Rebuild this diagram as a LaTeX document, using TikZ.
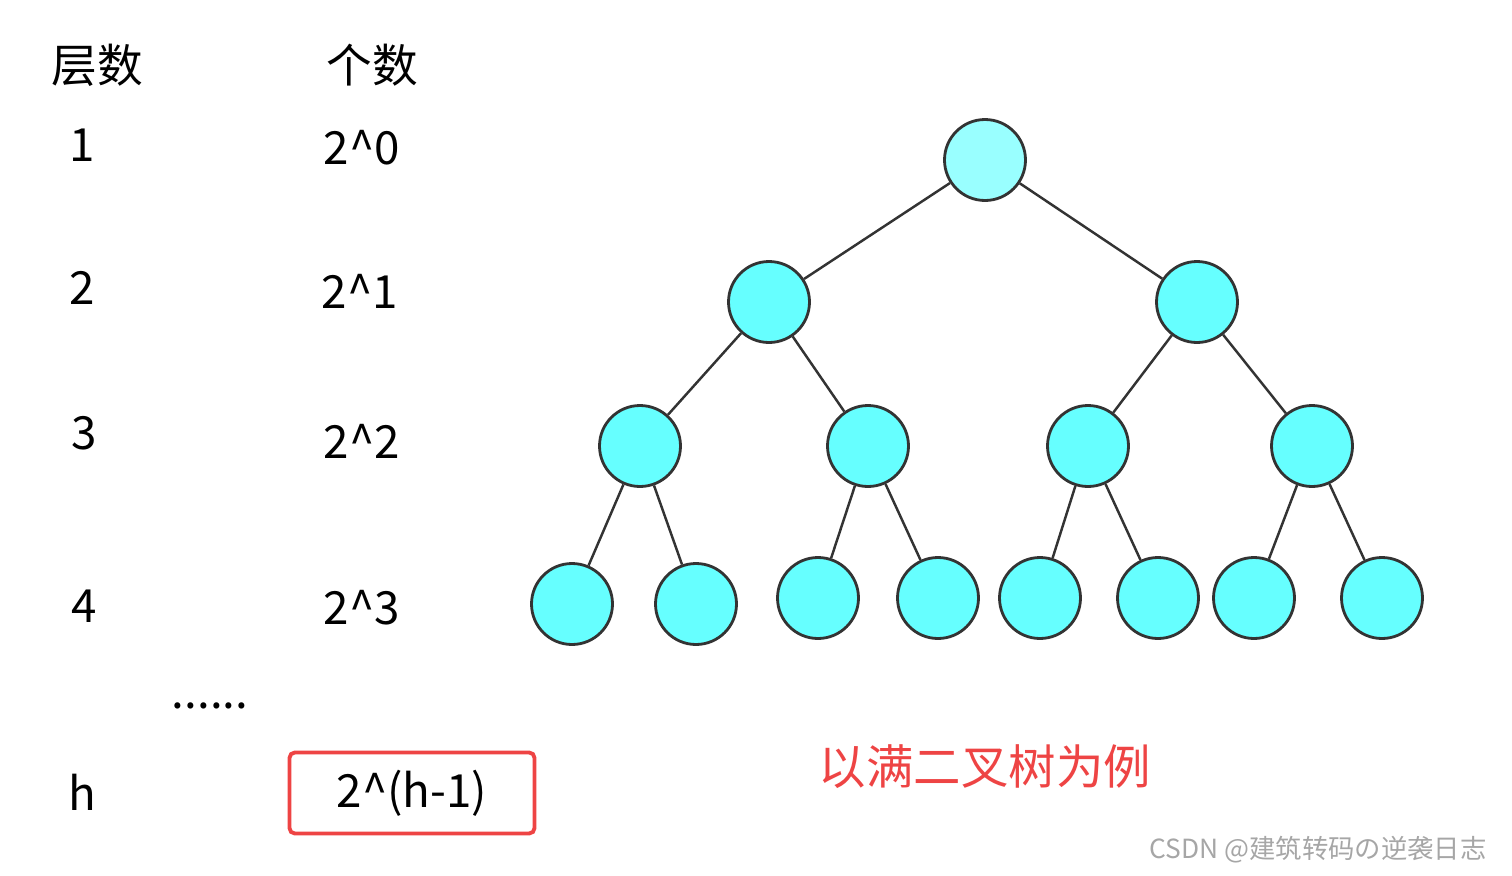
\documentclass[tikz,border=0pt]{standalone}
\usepackage{fontspec}
\setmainfont{Noto Sans CJK SC}
\begin{document}
\begin{tikzpicture}[x=0.02cm,y=-0.02cm,
  tn/.style={circle,draw=black!80,line width=1.6pt,fill=cyan!60!white,minimum size=1.62cm,inner sep=0pt},
  lbl/.style={font=\fontsize{26}{30}\selectfont,inner sep=0pt},
  edge/.style={draw=black!80,line width=1.4pt}]
\useasboundingbox (0,0) rectangle (1512,876);
\definecolor{nodec}{HTML}{66FFFF}\definecolor{rootc}{HTML}{99FFFF}
\definecolor{redc}{HTML}{EE4444}
\tikzset{tn/.append style={fill=nodec}}
\node[tn,fill=rootc] (r) at (985,160) {};
\node[tn] (a) at (769,302) {};
\node[tn] (b) at (1197,302) {};
\node[tn] (a1) at (640,446) {};
\node[tn] (a2) at (868,446) {};
\node[tn] (b1) at (1088,446) {};
\node[tn] (b2) at (1312,446) {};
\node[tn] (l1) at (572,604) {};
\node[tn] (l2) at (696,604) {};
\node[tn] (l3) at (818,598) {};
\node[tn] (l4) at (938,598) {};
\node[tn] (l5) at (1040,598) {};
\node[tn] (l6) at (1158,598) {};
\node[tn] (l7) at (1254,598) {};
\node[tn] (l8) at (1382,598) {};
\foreach \p/\c in {r/a,r/b,a/a1,a/a2,b/b1,b/b2,a1/l1,a1/l2,a2/l3,a2/l4,b1/l5,b1/l6,b2/l7,b2/l8}
  \draw[edge] (\p) -- (\c);
\node[lbl] (h1) at (97,65) {层数};
\node[lbl] (h2) at (372,65) {个数};
\node[lbl] (n1) at (82,145) {1};
\node[lbl] (n2) at (82,288) {2};
\node[lbl] (n3) at (84,433) {3};
\node[lbl] (n4) at (84,606) {4};
\node[lbl] (nh) at (82,792) {h};
\node[lbl] (c1) at (362,148) {2\^{}0};
\node[lbl] (c2) at (360,291) {2\^{}1};
\node[lbl] (c3) at (362,441) {2\^{}2};
\node[lbl] (c4) at (362,608) {2\^{}3};
\node[lbl] (dots) at (210,706) {......};
\node[lbl,draw=redc,line width=2.2pt,rounded corners=3pt,minimum width=4.9cm,minimum height=1.62cm] (ch) at (412,793) {2\^{}(h-1)};
\node[lbl,text=redc,font=\fontsize{27}{30}\selectfont] (t) at (985,767) {以满二叉树为例};
\node[inner sep=0pt,text=black!35,font=\fontsize{15}{18}\selectfont] (w) at (1318,850) {CSDN @建筑转码の逆袭日志};
\end{tikzpicture}
\end{document}
